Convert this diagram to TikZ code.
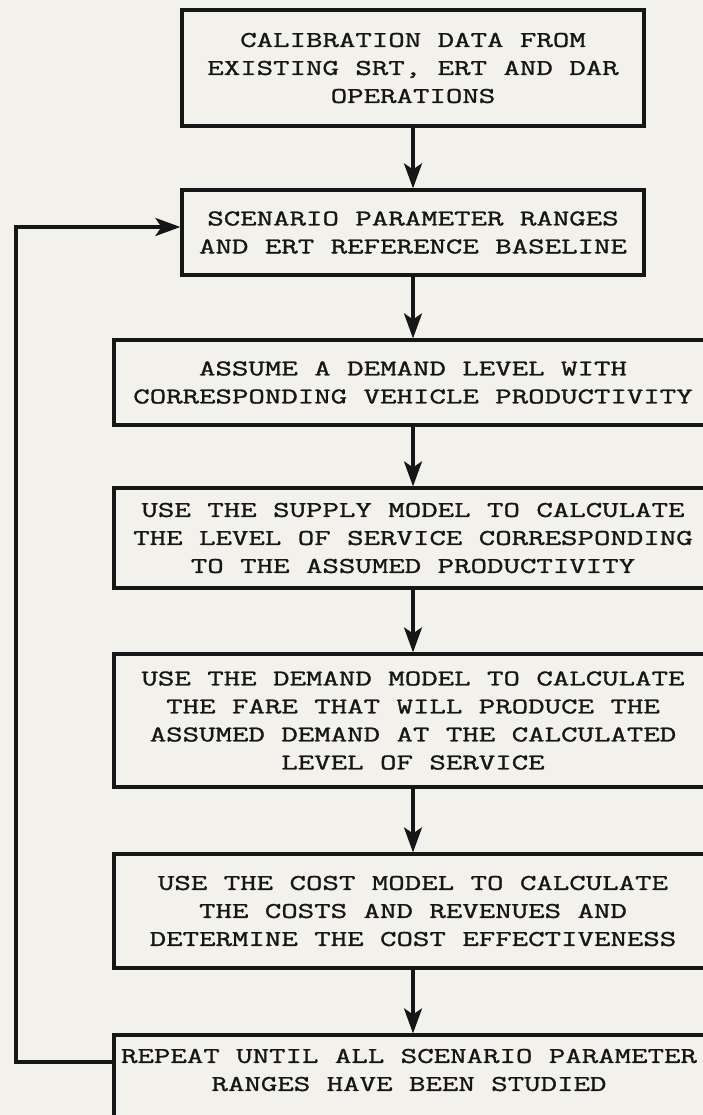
\documentclass[tikz,border=0pt]{standalone}
\usepackage{fontspec}
\newfontfamily\tw[FakeStretch=1.42,FakeBold=1.3]{Latin Modern Mono}
\usetikzlibrary{arrows.meta}
\definecolor{paper}{HTML}{F3F1EC}
\definecolor{ink}{HTML}{161616}
\begin{document}
\begin{tikzpicture}[x=1pt,y=-1pt,
  box/.style={draw=ink, line width=3.2pt, inner sep=0pt, align=center,
    font=\tw\fontsize{22.5}{28}\selectfont, text=ink},
  wide/.style={box, minimum width=598pt},
  narrow/.style={box, minimum width=462pt},
  txt/.style={inner sep=0pt, align=center, font=\tw\fontsize{22.5}{28}\selectfont, text=ink},
  conn/.style={draw=ink, line width=3.2pt, -{Stealth[length=25pt,width=18pt,inset=6pt]}}]
\fill[paper] (0,0) rectangle (703,1115);
\useasboundingbox (0,0) rectangle (703,1115);

\node[narrow, minimum height=116pt] (b1) at (413,68)
  {CALIBRATION DATA FROM\\EXISTING SRT, ERT AND DAR\\OPERATIONS};
\node[narrow, minimum height=85pt] (b2) at (413,232.5)
  {SCENARIO PARAMETER RANGES\\AND ERT REFERENCE BASELINE};
\node[wide, minimum height=85pt] (b3) at (413,382.5)
  {ASSUME A DEMAND LEVEL WITH\\CORRESPONDING VEHICLE PRODUCTIVITY};
\node[wide, minimum height=100pt] (b4) at (413,538)
  {USE THE SUPPLY MODEL TO CALCULATE\\THE LEVEL OF SERVICE CORRESPONDING\\TO THE ASSUMED PRODUCTIVITY};
\node[wide, minimum height=133pt] (b5) at (413,720.5)
  {USE THE DEMAND MODEL TO CALCULATE\\THE FARE THAT WILL PRODUCE THE\\ASSUMED DEMAND AT THE CALCULATED\\LEVEL OF SERVICE};
\node[wide, minimum height=114pt] (b6) at (413,911)
  {USE THE COST MODEL TO CALCULATE\\THE COSTS AND REVENUES AND\\DETERMINE THE COST EFFECTIVENESS};
\node[wide, minimum height=100pt] (b7) at (413,1085) {};
\node[txt] (b7t) at (409,1070)
  {REPEAT UNTIL ALL SCENARIO PARAMETER\\RANGES HAVE BEEN STUDIED};

\draw[conn] (b1.south) -- (b2.north);
\draw[conn] (b2.south) -- (b3.north);
\draw[conn] (b3.south) -- (b4.north);
\draw[conn] (b4.south) -- (b5.north);
\draw[conn] (b5.south) -- (b6.north);
\draw[conn] (b6.south) -- (b7.north);

\coordinate (lp1) at (16,1062);
\coordinate (lp2) at (16,227);
\draw[conn] (lp1 -| b7.west) -- (lp1) -- (lp2) -- (lp2 -| b2.west);
\end{tikzpicture}
\end{document}
